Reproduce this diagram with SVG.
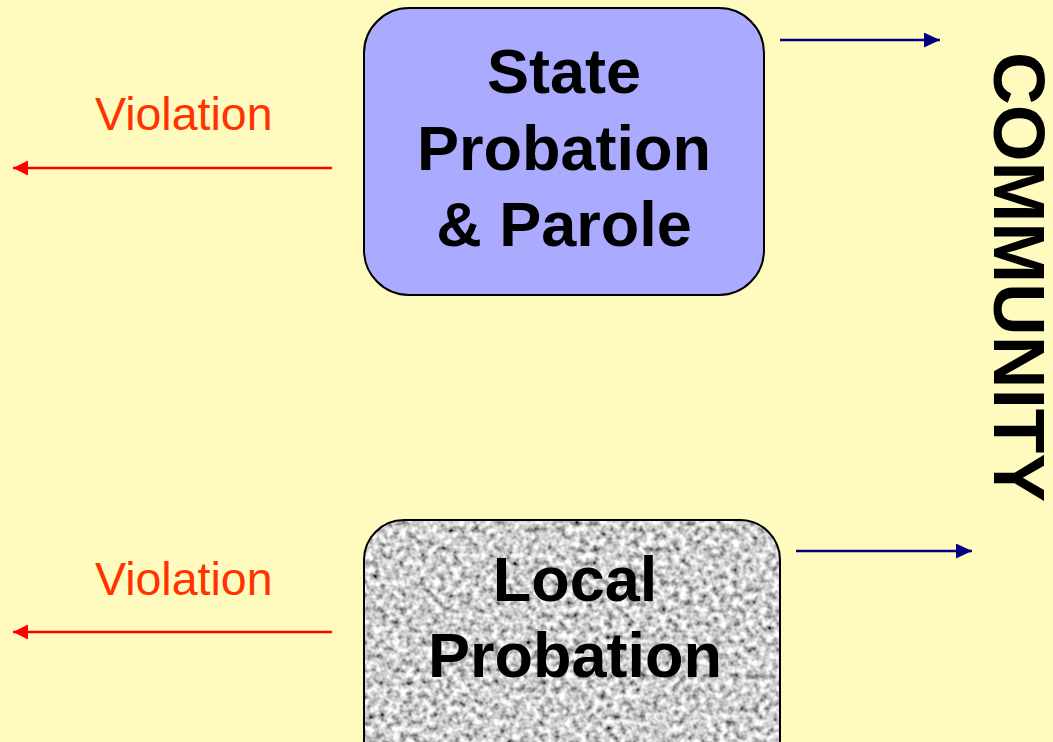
<svg xmlns="http://www.w3.org/2000/svg" width="1053" height="742" viewBox="0 0 1053 742">
<defs>
<style>
.box-text{font-family:"Liberation Sans",Arial,sans-serif;font-weight:bold;font-size:63px;fill:#000;text-anchor:middle}
.viol{font-family:"Liberation Sans",Arial,sans-serif;font-size:46.5px;fill:#FF3300}
.comm{font-family:"Liberation Sans",Arial,sans-serif;font-weight:bold;font-size:73px;fill:#000}
.red{stroke:#FF0000;stroke-width:2.5;fill:none}
.blue{stroke:#000080;stroke-width:2.5;fill:none}
</style>
<marker id="ahRed" markerUnits="userSpaceOnUse" markerWidth="16" markerHeight="16" refX="15" refY="7.5" orient="auto">
<path d="M0,0 L15,7.5 L0,15 Z" fill="#FF0000"/>
</marker>
<marker id="ahBlue" markerUnits="userSpaceOnUse" markerWidth="17" markerHeight="16" refX="16" refY="7.5" orient="auto">
<path d="M0,0 L16,7.5 L0,15 Z" fill="#000080"/>
</marker>
<filter id="noise" x="0" y="0" width="100%" height="100%">
<feTurbulence type="fractalNoise" baseFrequency="0.15" numOctaves="2" seed="7" result="t"/>
<feColorMatrix in="t" type="matrix" values="1.7 0 0 0 -0.23  1.7 0 0 0 -0.23  1.7 0 0 0 -0.23  0 0 0 0 1" result="g"/>
<feComposite in="g" in2="SourceGraphic" operator="in"/>
</filter>
</defs>
<rect width="1053" height="742" fill="#FFFBBF"/>
<g id="connectors">
<line class="red" x1="332" y1="168" x2="13" y2="168" marker-end="url(#ahRed)"/>
<line class="red" x1="332" y1="632" x2="13" y2="632" marker-end="url(#ahRed)"/>
<line class="blue" x1="780" y1="40" x2="940" y2="40" marker-end="url(#ahBlue)"/>
<line class="blue" x1="796" y1="551" x2="972" y2="551" marker-end="url(#ahBlue)"/>
</g>
<g id="state">
<rect x="364" y="8" width="400" height="287" rx="45" ry="45" fill="#AAAAFF" stroke="#000" stroke-width="2"/>
<text class="box-text" x="564" y="93">State</text>
<text class="box-text" x="564" y="170">Probation</text>
<text class="box-text" x="564" y="246">&amp; Parole</text>
</g>
<g id="local">
<rect x="364" y="520" width="416" height="260" rx="40" ry="40" fill="#A8A8A8" filter="url(#noise)"/>
<rect x="364" y="520" width="416" height="260" rx="40" ry="40" fill="none" stroke="#000" stroke-width="2"/>
<text class="box-text" x="575" y="601">Local</text>
<text class="box-text" x="575" y="677">Probation</text>
</g>
<g id="violation1"><text class="viol" x="95" y="130">Violation</text></g>
<g id="violation2"><text class="viol" x="95" y="595">Violation</text></g>
<g id="community">
<text class="comm" transform="translate(994,52) rotate(90)">COMMUNITY</text>
</g>
</svg>
